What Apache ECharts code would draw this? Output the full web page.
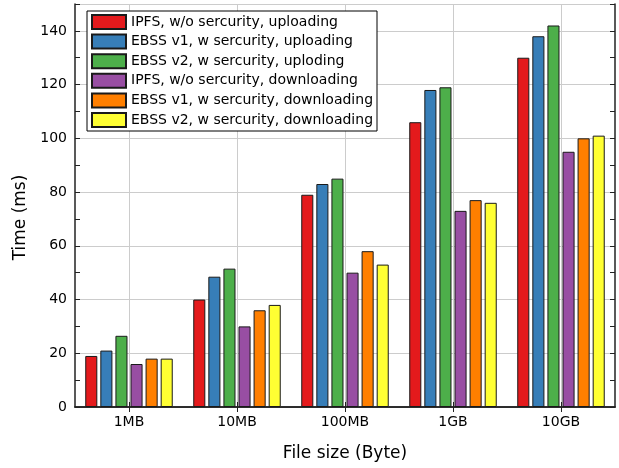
<!DOCTYPE html>
<html>
<head>
<meta charset="utf-8">
<script src="https://cdn.jsdelivr.net/npm/echarts@6/dist/echarts.min.js"></script>
<style>html,body{margin:0;padding:0;background:#fff}#c{width:619px;height:468px}</style>
</head>
<body>
<div id="c"></div>
<script>
const categories = ['1MB', '10MB', '100MB', '1GB', '10GB'];
const seriesNames = [
  'IPFS, w/o sercurity, uploading',
  'EBSS v1, w sercurity, uploading',
  'EBSS v2, w sercurity, uploding',
  'IPFS, w/o sercurity, downloading',
  'EBSS v1, w sercurity, downloading',
  'EBSS v2, w sercurity, downloading'
];
const ipfsUp = [19, 40, 79, 106, 130];
const ebss1Up = [21, 48.5, 83, 118, 138];
const ebss2Up = [26.5, 51.5, 85, 119, 142];
const ipfsDown = [16, 30, 50, 73, 95];
const ebss1Down = [18, 36, 58, 77, 100];
const ebss2Down = [18, 38, 53, 76, 101];
const values = [ipfsUp, ebss1Up, ebss2Up, ipfsDown, ebss1Down, ebss2Down];
const colors = ['#e41a1c', '#377eb8', '#4daf4a', '#984ea3', '#ff7f00', '#ffff33'];

const font = 'DejaVu Sans';
const chart = echarts.init(document.getElementById('c'), null, {renderer: 'canvas'});
const gridColor = '#cccccc';
const lineCol = '#222';
chart.setOption({
  animation: false,
  textStyle: {fontFamily: font},
  grid: {left: 75, right: 4, top: 4, bottom: 61, containLabel: false},
  legend: {
    orient: 'vertical',
    left: 87, top: 11,
    padding: [3, 4, 3, 4],
    icon: 'rect',
    itemWidth: 34, itemHeight: 14, itemGap: 3.6,
    borderColor: '#000', borderWidth: 1, backgroundColor: '#fff',
    textStyle: {fontFamily: font, fontSize: 14, color: '#000'},
    data: seriesNames
  },
  xAxis: [{
    type: 'category', data: categories, position: 'bottom',
    axisLine: {show: true, lineStyle: {color: lineCol, width: 1.5}},
    axisTick: {show: true, inside: true, alignWithLabel: true, length: 5, lineStyle: {color: lineCol}},
    axisLabel: {fontFamily: font, fontSize: 14, color: '#000', margin: 8},
    splitLine: {show: true, alignWithLabel: true, lineStyle: {color: gridColor, width: 1}},
    name: 'File size (Byte)', nameLocation: 'middle', nameGap: 38,
    nameTextStyle: {fontFamily: font, fontSize: 17, color: '#000'}
  }, {
    type: 'category', data: categories, position: 'top',
    axisLine: {show: true, lineStyle: {color: lineCol, width: 1.5}},
    axisTick: {show: true, inside: true, alignWithLabel: true, length: 5, lineStyle: {color: lineCol}},
    axisLabel: {show: false}, splitLine: {show: false}
  }],
  yAxis: [{
    type: 'value', min: 0, max: 150, interval: 10, position: 'left',
    axisLine: {show: true, lineStyle: {color: lineCol, width: 1.5}},
    axisTick: {show: true, inside: true, length: 5, lineStyle: {color: lineCol}},
    axisLabel: {fontFamily: font, fontSize: 14, color: '#000', margin: 8,
      formatter: v => (v % 20 === 0 && v < 150) ? String(v) : ''},
    splitLine: {show: false},
    name: 'Time (ms)', nameLocation: 'middle', nameGap: 46,
    nameTextStyle: {fontFamily: font, fontSize: 17, color: '#000', padding: [0, 24, 0, 0]}
  }, {
    type: 'value', min: 0, max: 150, interval: 10, position: 'right',
    axisLine: {show: true, lineStyle: {color: lineCol, width: 1.5}},
    axisTick: {show: true, inside: true, length: 5, lineStyle: {color: lineCol}},
    axisLabel: {show: false}, splitLine: {show: false}
  }, {
    type: 'value', min: 0, max: 150, interval: 20, position: 'left', offset: 0,
    axisLine: {show: false}, axisTick: {show: false}, axisLabel: {show: false},
    splitLine: {show: true, lineStyle: {color: gridColor, width: 1}}
  }],
  series: seriesNames.map((n, i) => ({
    name: n, type: 'bar', data: values[i], yAxisIndex: 0,
    barGap: '25%', barCategoryGap: '19%',
    itemStyle: {color: colors[i], borderColor: '#1a1a1a', borderWidth: 1}
  }))
});
</script>
</body>
</html>
